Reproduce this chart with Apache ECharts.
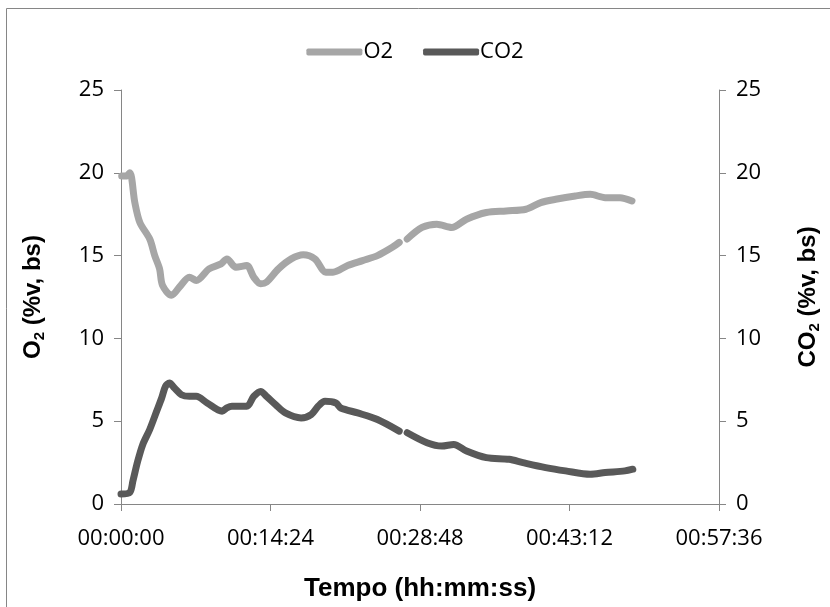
<!DOCTYPE html>
<html lang="pt">
<head>
  <meta charset="UTF-8" />
  <title>O2 / CO2</title>
  <script src="https://cdnjs.cloudflare.com/ajax/libs/echarts/6.0.0/echarts.min.js"></script>
  <style>
    body { margin: 0; background: #fff; }
    #chart { width: 830px; height: 607px; }
  </style>
</head>
<body>
  <div id="chart"></div>
  <script>
    // tempo em segundos desde o início
    const o2Time = [4, 29, 51, 80, 109, 166, 195, 223, 240, 292, 338, 395, 435, 509, 578, 612, 664, 727, 767, 807, 841, 910, 984, 1053, 1121, 1184, 1225, 1310, 1396, 1482, 1568, 1608, 1630, 1654, 1740, 1825, 1911, 1997, 2111, 2226, 2340, 2426, 2512, 2626, 2712, 2798, 2884, 2953];
    const o2Values = [19.8, 19.8, 20.0, 18.2, 17.0, 16.0, 15.0, 14.2, 13.2, 12.6, 13.1, 13.7, 13.5, 14.2, 14.5, 14.8, 14.3, 14.4, 13.7, 13.3, 13.4, 14.2, 14.8, 15.05, 14.8, 14.0, 14.0, 14.4, 14.7, 15.0, 15.5, 15.8, '-', 16.0, 16.7, 16.9, 16.7, 17.2, 17.6, 17.7, 17.8, 18.2, 18.4, 18.6, 18.7, 18.5, 18.5, 18.3];

    const co2Time = [0, 51, 69, 97, 126, 166, 206, 235, 257, 280, 309, 349, 395, 435, 498, 584, 612, 641, 727, 767, 807, 841, 893, 950, 1041, 1099, 1139, 1179, 1242, 1270, 1368, 1482, 1608, 1630, 1654, 1768, 1854, 1923, 1997, 2111, 2243, 2323, 2454, 2569, 2712, 2798, 2912, 2958];
    const co2Values = [0.6, 0.7, 1.4, 2.6, 3.6, 4.5, 5.6, 6.4, 7.1, 7.3, 7.0, 6.6, 6.5, 6.5, 6.1, 5.6, 5.8, 5.9, 5.9, 6.5, 6.8, 6.5, 6.0, 5.5, 5.2, 5.4, 5.9, 6.2, 6.1, 5.8, 5.5, 5.1, 4.4, '-', 4.3, 3.7, 3.5, 3.6, 3.2, 2.8, 2.7, 2.5, 2.2, 2.0, 1.8, 1.9, 2.0, 2.1];

    const seriesNames = ["O2", "CO2"];

    const font = "'Open Sans', 'Liberation Sans', sans-serif";
    const boldFont = "'Liberation Sans', Arial, sans-serif";
    const axisGray = "#868686";

    function hms(sec) {
      const h = Math.floor(sec / 3600);
      const m = Math.floor((sec % 3600) / 60);
      const s = Math.round(sec % 60);
      return [h, m, s].map((v) => String(v).padStart(2, "0")).join(":");
    }

    function pairs(t, v) {
      return t.map((x, i) => [x, v[i]]);
    }

    const yTitleRich = {
      a: { fontFamily: boldFont, fontWeight: "bold", fontSize: 24, color: "#000" },
      s: { fontFamily: boldFont, fontWeight: "bold", fontSize: 15, color: "#000", verticalAlign: "bottom", padding: [12, 0, 0, 0] },
    };

    function yAxis(name, position, gap) {
      return {
        type: "value",
        position: position,
        min: 0,
        max: 25,
        interval: 5,
        name: name,
        nameLocation: "middle",
        nameRotate: 90,
        nameGap: gap,
        nameTextStyle: { rich: yTitleRich },
        axisLine: { show: true, lineStyle: { color: axisGray, width: 1 } },
        axisTick: { show: true, length: 7, lineStyle: { color: axisGray } },
        axisLabel: { margin: 17, fontFamily: font, fontSize: 22, color: "#000" },
        splitLine: { show: false },
      };
    }

    const chart = echarts.init(document.getElementById("chart"));

    chart.setOption({
      animation: false,
      backgroundColor: "#fff",
      graphic: [
        {
          type: "rect",
          silent: true,
          shape: { x: 6.5, y: 8.5, width: 840, height: 640 },
          style: { fill: null, stroke: axisGray, lineWidth: 1 },
        },
      ],
      legend: {
        top: 36,
        left: "center",
        itemGap: 30,
        itemWidth: 56,
        itemHeight: 7,
        icon: "roundRect",
        textStyle: { fontFamily: font, fontSize: 22, color: "#000", padding: [0, 0, 0, -4] },
        data: seriesNames,
      },
      grid: { left: 121, right: 105, top: 90, bottom: 100 },
      xAxis: {
        type: "value",
        min: 0,
        max: 3456,
        interval: 864,
        name: "Tempo (hh:mm:ss)",
        nameLocation: "middle",
        nameGap: 72,
        nameTextStyle: { fontFamily: boldFont, fontWeight: "bold", fontSize: 26, color: "#000" },
        axisLine: { lineStyle: { color: axisGray, width: 1 } },
        axisTick: { show: true, length: 7, lineStyle: { color: axisGray } },
        axisLabel: { margin: 24, fontFamily: font, fontSize: 22, color: "#000", formatter: hms },
        splitLine: { show: false },
      },
      yAxis: [
        yAxis("{a|O}{s|2}{a| (%v, bs)}", "left", 74),
        yAxis("{a|CO}{s|2}{a| (%v, bs)}", "right", 76),
      ],
      series: [
        {
          name: seriesNames[0],
          type: "line",
          yAxisIndex: 0,
          data: pairs(o2Time, o2Values),
          smooth: 0.3,
          symbol: "none",
          connectNulls: false,
          itemStyle: { color: "#A6A6A6" },
          lineStyle: { color: "#A6A6A6", width: 7, cap: "round", join: "round" },
        },
        {
          name: seriesNames[1],
          type: "line",
          yAxisIndex: 1,
          data: pairs(co2Time, co2Values),
          smooth: 0.3,
          symbol: "none",
          connectNulls: false,
          itemStyle: { color: "#595959" },
          lineStyle: { color: "#595959", width: 7, cap: "round", join: "round" },
        },
      ],
    });
  </script>
</body>
</html>
